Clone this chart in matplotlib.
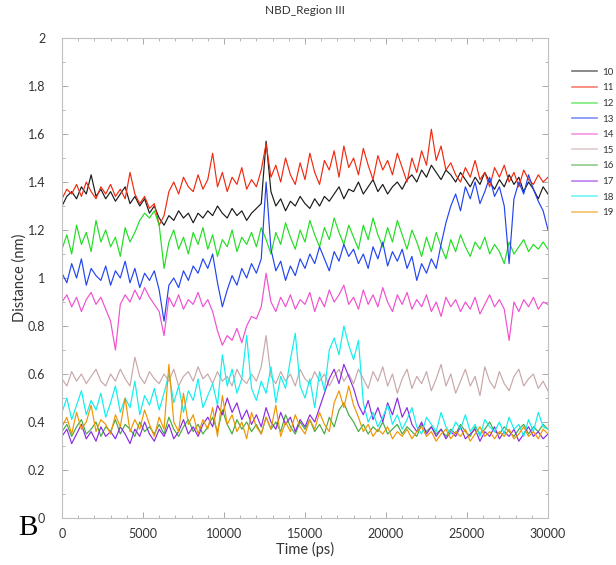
import matplotlib
matplotlib.use("Agg")
import matplotlib.pyplot as plt
from matplotlib.ticker import MultipleLocator

plt.rcParams['font.family'] = ['Lato', 'DejaVu Sans']

# sampling times (ps)
time_ps = list(range(0, 30001, 300))

# distances (nm) for each residue pair
dist_10 = [1.30, 1.34, 1.36, 1.33, 1.38, 1.35, 1.43, 1.34, 1.37, 1.33,
           1.36, 1.32, 1.35, 1.38, 1.31, 1.34, 1.30, 1.33, 1.27, 1.30,
           1.25, 1.22, 1.26, 1.24, 1.28, 1.25, 1.27, 1.23, 1.27, 1.25,
           1.28, 1.26, 1.30, 1.27, 1.25, 1.29, 1.26, 1.28, 1.24, 1.27,
           1.29, 1.31, 1.57, 1.36, 1.30, 1.33, 1.28, 1.32, 1.30, 1.34,
           1.31, 1.29, 1.33, 1.30, 1.34, 1.32, 1.35, 1.38, 1.33, 1.37,
           1.36, 1.40, 1.35, 1.38, 1.41, 1.36, 1.39, 1.35, 1.38, 1.40,
           1.37, 1.41, 1.43, 1.40, 1.45, 1.42, 1.47, 1.44, 1.41, 1.45,
           1.43, 1.40, 1.44, 1.41, 1.38, 1.42, 1.39, 1.44, 1.40, 1.37,
           1.41, 1.38, 1.43, 1.39, 1.42, 1.36, 1.40, 1.37, 1.33, 1.38,
           1.35]
dist_11 = [1.33, 1.37, 1.35, 1.39, 1.34, 1.40, 1.36, 1.33, 1.38, 1.35,
           1.39, 1.34, 1.37, 1.33, 1.44, 1.35, 1.31, 1.34, 1.29, 1.31,
           1.22, 1.26, 1.36, 1.40, 1.35, 1.42, 1.38, 1.36, 1.43, 1.37,
           1.41, 1.52, 1.38, 1.44, 1.36, 1.42, 1.39, 1.46, 1.37, 1.41,
           1.38, 1.45, 1.56, 1.42, 1.47, 1.40, 1.50, 1.43, 1.39, 1.48,
           1.41, 1.52, 1.44, 1.39, 1.49, 1.45, 1.53, 1.42, 1.55, 1.46,
           1.50, 1.43, 1.54, 1.47, 1.41, 1.51, 1.45, 1.49, 1.43, 1.52,
           1.46, 1.40, 1.50, 1.44, 1.53, 1.47, 1.62, 1.49, 1.55, 1.45,
           1.48, 1.43, 1.40, 1.46, 1.42, 1.49, 1.41, 1.44, 1.38, 1.46,
           1.42, 1.47, 1.40, 1.44, 1.38, 1.45, 1.41, 1.39, 1.43, 1.40,
           1.42]
dist_12 = [1.12, 1.18, 1.10, 1.22, 1.14, 1.19, 1.11, 1.24, 1.15, 1.20,
           1.13, 1.17, 1.09, 1.21, 1.15, 1.19, 1.24, 1.27, 1.25, 1.28,
           1.22, 1.04, 1.15, 1.20, 1.12, 1.17, 1.10, 1.19, 1.14, 1.21,
           1.12, 1.18, 1.09, 1.16, 1.13, 1.20, 1.11, 1.17, 1.14, 1.19,
           1.13, 1.21, 1.16, 1.10, 1.19, 1.14, 1.23, 1.17, 1.12, 1.20,
           1.15, 1.24, 1.18, 1.13, 1.21, 1.16, 1.25, 1.19, 1.14, 1.22,
           1.17, 1.12, 1.22, 1.16, 1.25, 1.18, 1.13, 1.21, 1.15, 1.24,
           1.18, 1.12, 1.20, 1.15, 1.09, 1.17, 1.11, 1.19, 1.13, 1.08,
           1.16, 1.11, 1.18, 1.13, 1.09, 1.15, 1.12, 1.17, 1.10, 1.14,
           1.11, 1.06, 1.15, 1.10, 1.13, 1.16, 1.11, 1.14, 1.12, 1.15,
           1.12]
dist_13 = [1.02, 0.98, 1.06, 1.00, 1.08, 0.97, 1.04, 1.01, 0.99, 1.05,
           0.97, 1.03, 1.00, 1.07, 0.98, 1.04, 0.96, 1.02, 0.99, 1.03,
           0.95, 0.82, 0.97, 1.00, 0.96, 1.03, 0.99, 1.05, 1.02, 1.08,
           1.04, 1.10, 0.98, 0.88, 0.95, 1.01, 0.97, 1.04, 1.00, 1.06,
           1.02, 1.08, 1.40, 1.12, 1.03, 1.07, 0.99, 1.05, 1.01, 1.08,
           1.04, 1.10, 1.06, 1.13, 1.08, 1.03, 1.11, 1.07, 1.14, 1.09,
           1.12, 1.06, 1.10, 1.04, 1.13, 1.08, 1.15, 1.05, 1.11, 1.07,
           1.12, 1.04, 1.09, 0.99, 1.06, 1.02, 1.08, 1.04, 1.14, 1.23,
           1.30, 1.35, 1.28, 1.38, 1.33, 1.40, 1.31, 1.36, 1.42, 1.34,
           1.38, 1.30, 1.06, 1.33, 1.40, 1.35, 1.43, 1.37, 1.32, 1.28,
           1.20]
dist_14 = [0.90, 0.93, 0.88, 0.92, 0.86, 0.91, 0.94, 0.89, 0.92, 0.87,
           0.82, 0.70, 0.89, 0.93, 0.90, 0.95, 0.91, 0.96, 0.92, 0.89,
           0.86, 0.76, 0.92, 0.88, 0.93, 0.87, 0.91, 0.89, 0.94, 0.88,
           0.91, 0.86, 0.78, 0.72, 0.76, 0.74, 0.79, 0.73, 0.80, 0.84,
           0.83, 0.88, 1.02, 0.90, 0.86, 0.92, 0.88, 0.93, 0.87, 0.91,
           0.89, 0.94, 0.86, 0.92, 0.88, 0.95, 0.90, 0.93, 0.97, 0.89,
           0.92, 0.87, 0.95, 0.89, 0.93, 0.88, 0.96, 0.90, 0.86, 0.93,
           0.89, 0.94, 0.87, 0.91, 0.88, 0.93, 0.86, 0.90, 0.84, 0.92,
           0.88, 0.91, 0.86, 0.90, 0.87, 0.92, 0.85, 0.89, 0.93, 0.88,
           0.91, 0.87, 0.74, 0.90, 0.86, 0.91, 0.88, 0.92, 0.87, 0.90,
           0.89]
dist_15 = [0.58, 0.55, 0.61, 0.57, 0.60, 0.56, 0.59, 0.62, 0.57, 0.55,
           0.60, 0.57, 0.62, 0.58, 0.55, 0.67, 0.59, 0.56, 0.61, 0.58,
           0.56, 0.60, 0.57, 0.62, 0.55, 0.59, 0.61, 0.57, 0.63, 0.58,
           0.60, 0.56, 0.61, 0.57, 0.59, 0.55, 0.62, 0.58, 0.56, 0.60,
           0.57, 0.63, 0.76, 0.59, 0.56, 0.61, 0.57, 0.60, 0.55, 0.62,
           0.58, 0.56, 0.61, 0.57, 0.60, 0.55, 0.59, 0.62, 0.57, 0.60,
           0.56, 0.62, 0.58, 0.54, 0.61, 0.57, 0.63, 0.55, 0.60, 0.52,
           0.58, 0.62, 0.54, 0.59, 0.56, 0.61, 0.53, 0.58, 0.64, 0.55,
           0.60, 0.52, 0.57, 0.62, 0.55, 0.59, 0.51, 0.63, 0.57, 0.54,
           0.61, 0.56, 0.53, 0.59, 0.62, 0.55, 0.58, 0.60, 0.54, 0.57,
           0.53]
dist_16 = [0.36, 0.39, 0.34, 0.38, 0.41, 0.35, 0.37, 0.40, 0.34, 0.38,
           0.36, 0.41, 0.35, 0.39, 0.37, 0.34, 0.40, 0.36, 0.38, 0.35,
           0.39, 0.35, 0.42, 0.37, 0.34, 0.38, 0.41, 0.36, 0.39, 0.35,
           0.38, 0.42, 0.36, 0.45, 0.39, 0.35, 0.41, 0.37, 0.40, 0.36,
           0.39, 0.35, 0.42, 0.37, 0.40, 0.36, 0.43, 0.38, 0.35, 0.40,
           0.37, 0.41, 0.36, 0.39, 0.35, 0.42, 0.38, 0.45, 0.48, 0.43,
           0.40, 0.36, 0.39, 0.35, 0.38, 0.36, 0.40, 0.35, 0.37, 0.39,
           0.35, 0.38, 0.36, 0.34, 0.39, 0.36, 0.38, 0.35, 0.37, 0.34,
           0.37, 0.35, 0.39, 0.36, 0.34, 0.38, 0.35, 0.37, 0.40, 0.36,
           0.35, 0.38, 0.36, 0.34, 0.37, 0.39, 0.35, 0.38, 0.36, 0.39,
           0.37]
dist_17 = [0.34, 0.37, 0.31, 0.35, 0.39, 0.33, 0.36, 0.32, 0.38, 0.34,
           0.36, 0.33, 0.38, 0.35, 0.31, 0.37, 0.34, 0.40, 0.35, 0.32,
           0.37, 0.34, 0.39, 0.33, 0.36, 0.41, 0.35, 0.38, 0.34, 0.39,
           0.42, 0.38, 0.47, 0.43, 0.50, 0.44, 0.48, 0.41, 0.45, 0.39,
           0.43, 0.38, 0.46, 0.40, 0.37, 0.44, 0.39, 0.42, 0.36, 0.41,
           0.38, 0.43, 0.40, 0.46, 0.52, 0.58, 0.62, 0.56, 0.64, 0.59,
           0.54, 0.47, 0.43, 0.49, 0.41, 0.46, 0.40, 0.48, 0.43, 0.50,
           0.42, 0.46, 0.39, 0.36, 0.40, 0.35, 0.38, 0.34, 0.37, 0.33,
           0.36, 0.34, 0.38, 0.33, 0.35, 0.37, 0.32, 0.36, 0.34, 0.38,
           0.33, 0.36, 0.34, 0.37, 0.32, 0.35, 0.38, 0.34, 0.36, 0.33,
           0.35]
dist_18 = [0.44, 0.50, 0.41, 0.47, 0.53, 0.43, 0.49, 0.45, 0.52, 0.42,
           0.48, 0.55, 0.44, 0.50, 0.46, 0.57, 0.43, 0.51, 0.47, 0.54,
           0.45, 0.52, 0.60, 0.48, 0.55, 0.44, 0.53, 0.49, 0.58, 0.46,
           0.51, 0.56, 0.47, 0.68, 0.55, 0.62, 0.52, 0.58, 0.76, 0.54,
           0.49, 0.57, 0.52, 0.63, 0.48, 0.59, 0.54, 0.66, 0.77, 0.55,
           0.50, 0.58, 0.46, 0.61, 0.53, 0.70, 0.75, 0.68, 0.80, 0.72,
           0.66, 0.74, 0.48, 0.40, 0.44, 0.38, 0.42, 0.47, 0.39, 0.43,
           0.37, 0.41, 0.46, 0.38, 0.35, 0.42, 0.39, 0.36, 0.44, 0.38,
           0.35, 0.40, 0.37, 0.43, 0.36, 0.39, 0.34, 0.41, 0.38, 0.36,
           0.40, 0.35, 0.42, 0.37, 0.39, 0.34, 0.41, 0.36, 0.44, 0.38,
           0.37]
dist_19 = [0.38, 0.42, 0.35, 0.44, 0.37, 0.40, 0.47, 0.36, 0.41, 0.39,
           0.35, 0.43, 0.38, 0.50, 0.36, 0.41, 0.37, 0.45, 0.39, 0.34,
           0.42, 0.37, 0.64, 0.40, 0.36, 0.52, 0.39, 0.43, 0.35, 0.41,
           0.37, 0.46, 0.34, 0.51, 0.39, 0.43, 0.36, 0.40, 0.33, 0.44,
           0.38, 0.35, 0.42, 0.37, 0.47, 0.34, 0.40, 0.36, 0.43, 0.38,
           0.35, 0.41, 0.37, 0.44, 0.39, 0.36, 0.48, 0.53, 0.46, 0.55,
           0.47, 0.42, 0.36, 0.39, 0.34, 0.37, 0.35, 0.38, 0.33, 0.36,
           0.34, 0.37, 0.33, 0.36, 0.38, 0.34, 0.36, 0.32, 0.35, 0.37,
           0.33, 0.36, 0.34, 0.37, 0.32, 0.35, 0.38, 0.34, 0.36, 0.33,
           0.36, 0.34, 0.37, 0.33, 0.35, 0.38, 0.34, 0.36, 0.33, 0.37,
           0.35]

labels = ['10', '11', '12', '13', '14', '15', '16', '17', '18', '19']
series = [dist_10, dist_11, dist_12, dist_13, dist_14,
          dist_15, dist_16, dist_17, dist_18, dist_19]
colors = ['#1a1a1a', '#f02a10', '#22dd22', '#2244f0', '#f050d0',
          '#c8a8a8', '#44aa44', '#8a2be2', '#10eeee', '#f09400']

fig = plt.figure(figsize=(6.16, 5.65), dpi=100)
ax = fig.add_axes([0.1006, 0.0832, 0.789, 0.8495])

for lab, d, c in zip(labels, series, colors):
    ax.plot(time_ps, d, color=c, lw=0.85, label=lab)

ax.set_xlim(0, 30000)
ax.set_ylim(0, 2)
ax.xaxis.set_major_locator(MultipleLocator(5000))
ax.xaxis.set_minor_locator(MultipleLocator(1000))
ax.yaxis.set_major_locator(MultipleLocator(0.2))
ax.yaxis.set_minor_locator(MultipleLocator(0.1))
ax.yaxis.set_major_formatter(plt.FuncFormatter(lambda v, p: ('%g' % round(v, 1))))

ax.tick_params(which='both', direction='in', top=True, right=True,
               color='#aaaaaa', labelcolor='#333333', labelsize=9)
ax.tick_params(axis='x', pad=7)
ax.tick_params(axis='y', pad=12)
ax.tick_params(which='major', length=4, width=0.7)
ax.tick_params(which='minor', length=2.5, width=0.6)
for sp in ax.spines.values():
    sp.set_color('#c0c0c0')
    sp.set_linewidth(0.8)

ax.set_title('NBD_Region III', fontsize=8.5, color='#333333', pad=17)
ax.set_xlabel('Time (ps)', fontsize=10.5, color='#333333')
ax.set_ylabel('Distance (nm)', fontsize=10.5, color='#333333')
ax.xaxis.set_label_coords(0.5, -0.05)
ax.yaxis.set_label_coords(-0.072, 0.5)

leg = fig.legend(loc='upper left', bbox_to_anchor=(0.922, 0.887), frameon=False,
                 fontsize=7, handlelength=2.6, labelspacing=0.68,
                 handletextpad=0.5, borderaxespad=0.0)
for h in leg.get_lines():
    h.set_alpha(0.6)
    h.set_linewidth(1.2)
for t in leg.get_texts():
    t.set_color('#333333')

fig.text(0.045, 0.066, 'B', fontsize=21, family='Liberation Serif',
         ha='center', va='center', color='black')

fig.savefig('out.png', dpi=100)
